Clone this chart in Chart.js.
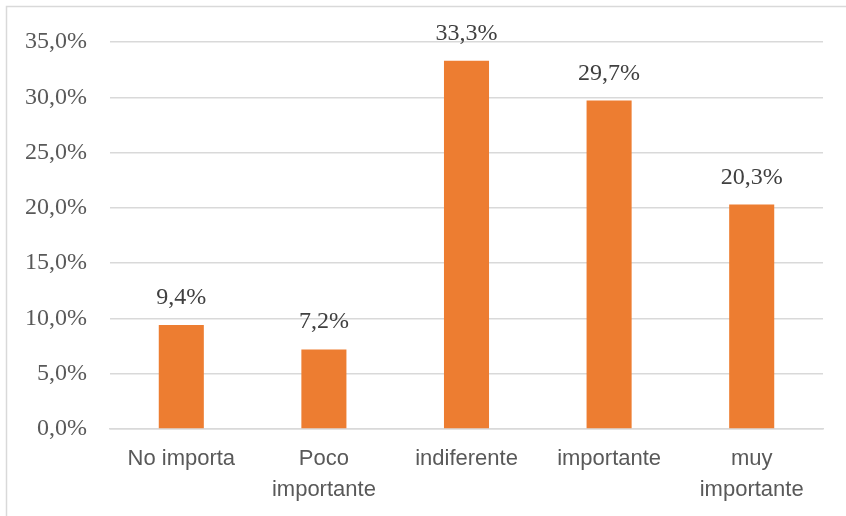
<!DOCTYPE html>
<html>
<head>
<meta charset="utf-8">
<script src="https://cdn.jsdelivr.net/npm/chart.js@4"></script>
<style>
  html, body { margin: 0; padding: 0; background: #fff; }
  #wrap { position: relative; width: 846px; height: 516px; }
</style>
</head>
<body>
<div id="wrap"><canvas id="chart" width="846" height="516"></canvas></div>
<script>
// Categories (multi-line ones are arrays) and percent values
const categories = ['No importa', ['Poco', 'importante'], 'indiferente', 'importante', ['muy', 'importante']];
const percentages = [9.4, 7.2, 33.3, 29.7, 20.3];
const yTicks = [0, 5, 10, 15, 20, 25, 30, 35];

const fmt = v => v.toFixed(1).replace('.', ',') + '%';

// Light frame around the chart area (top and left edges visible)
const framePlugin = {
    id: 'frame',
    beforeDraw(chart) {
        const ctx = chart.ctx;
        ctx.save();
        ctx.strokeStyle = '#d9d9d9';
        ctx.lineWidth = 1.5;
        ctx.beginPath();
        ctx.moveTo(6.5, chart.height + 2);
        ctx.lineTo(6.5, 6.5);
        ctx.lineTo(chart.width + 2, 6.5);
        ctx.stroke();
        ctx.restore();
    }
};

// Value labels above each bar
const valueLabels = {
    id: 'valueLabels',
    afterDatasetsDraw(chart) {
        const ctx = chart.ctx;
        const meta = chart.getDatasetMeta(0);
        ctx.save();
        ctx.font = '24px "Liberation Serif", "Times New Roman", serif';
        ctx.fillStyle = '#404040';
        ctx.textAlign = 'center';
        ctx.textBaseline = 'alphabetic';
        meta.data.forEach((bar, i) => {
            ctx.fillText(fmt(percentages[i]), bar.x, bar.y - 21);
        });
        ctx.restore();
    }
};

new Chart(document.getElementById('chart').getContext('2d'), {
    type: 'bar',
    data: {
        labels: categories,
        datasets: [{
            data: percentages,
            backgroundColor: '#ED7D31',
            categoryPercentage: 1,
            barPercentage: 0.316
        }]
    },
    options: {
        responsive: false,
        animation: false,
        events: [],
        layout: { padding: { top: 42, right: 23, left: 0, bottom: 0 } },
        plugins: {
            legend: { display: false },
            tooltip: { enabled: false }
        },
        scales: {
            x: {
                afterFit: s => { s.height = 87; },
                grid: { display: false, drawTicks: false },
                border: { color: '#d9d9d9', width: 1.5 },
                ticks: {
                    padding: 15,
                    color: '#595959',
                    maxRotation: 0,
                    autoSkip: false,
                    font: { family: '"Liberation Sans", Arial, sans-serif', size: 22, lineHeight: 1.38 }
                }
            },
            y: {
                min: 0,
                max: 35,
                afterFit: s => { s.width = 110; },
                afterBuildTicks: s => { s.ticks = yTicks.map(v => ({ value: v })); },
                grid: { color: '#d9d9d9', lineWidth: 1.5, drawTicks: false },
                border: { display: false },
                ticks: {
                    padding: 23,
                    color: '#595959',
                    font: { family: '"Liberation Serif", "Times New Roman", serif', size: 24 },
                    callback: v => fmt(v)
                }
            }
        }
    },
    plugins: [framePlugin, valueLabels]
});
</script>
</body>
</html>
